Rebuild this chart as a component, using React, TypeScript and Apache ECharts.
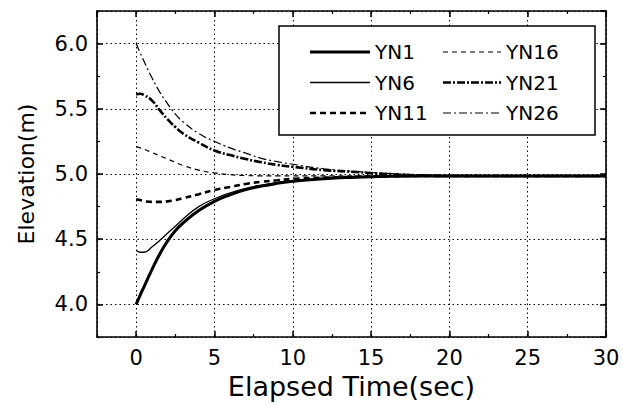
import React, { useEffect, useRef } from "react";
import * as echarts from "echarts";

const times = [0, 0.25, 0.5, 1, 1.5, 2, 2.5, 3, 4, 5, 6, 7, 8, 9, 10, 12, 14, 16, 18, 20, 25, 30];
const yn1 = [4.0, 4.07, 4.135, 4.265, 4.385, 4.485, 4.565, 4.625, 4.72, 4.79, 4.84, 4.88, 4.907, 4.928, 4.944, 4.964, 4.975, 4.982, 4.985, 4.985, 4.985, 4.985];
const yn6 = [4.415, 4.4, 4.4, 4.44, 4.49, 4.545, 4.6, 4.655, 4.75, 4.81, 4.855, 4.89, 4.915, 4.934, 4.948, 4.966, 4.976, 4.982, 4.985, 4.985, 4.985, 4.985];
const yn11 = [4.807, 4.8, 4.793, 4.786, 4.786, 4.79, 4.8, 4.815, 4.845, 4.878, 4.9, 4.924, 4.94, 4.952, 4.962, 4.972, 4.978, 4.982, 4.985, 4.985, 4.985, 4.985];
const yn16 = [5.21, 5.2, 5.19, 5.165, 5.14, 5.115, 5.09, 5.065, 5.03, 5.008, 4.995, 4.988, 4.986, 4.985, 4.985, 4.985, 4.985, 4.985, 4.985, 4.985, 4.985, 4.985];
const yn21 = [5.61, 5.615, 5.605, 5.565, 5.49, 5.42, 5.36, 5.31, 5.24, 5.18, 5.145, 5.115, 5.09, 5.07, 5.055, 5.03, 5.015, 5.0, 4.99, 4.985, 4.985, 4.985];
const yn26 = [6.0, 5.93, 5.865, 5.74, 5.63, 5.54, 5.46, 5.4, 5.31, 5.25, 5.2, 5.16, 5.12, 5.095, 5.075, 5.04, 5.02, 5.005, 4.995, 4.99, 4.985, 4.985];

const seriesNames = ["YN1", "YN6", "YN11", "YN16", "YN21", "YN26"];
const seriesValues = [yn1, yn6, yn11, yn16, yn21, yn26];
const lineStyles = [
  { width: 3, type: "solid" as any },
  { width: 1.3, type: "solid" as any },
  { width: 2.6, type: [6, 4] as any },
  { width: 1.2, type: [5, 4] as any },
  { width: 2.6, type: [8, 2, 2, 2] as any },
  { width: 1.2, type: [8, 3, 2, 3] as any },
];

const FONT = "DejaVu Sans";

export default function App() {
  const ref = useRef<HTMLDivElement>(null);
  useEffect(() => {
    if (!ref.current) return;
    const chart = echarts.init(ref.current, null, { renderer: "svg" });
    const black = "#000";
    const xMajorBase = {
      type: "value" as const,
      min: -2.5,
      max: 30,
      splitNumber: 6,
      axisLine: { show: true, onZero: false, lineStyle: { color: black, width: 1.6 } },
      axisTick: { show: true, inside: true, length: 6, lineStyle: { color: black, width: 1.5 } },
    };
    const xMinorBase = {
      type: "value" as const,
      min: -2.5,
      max: 30,
      interval: 2.5,
      axisLine: { show: false, onZero: false },
      axisTick: { show: true, inside: true, length: 3, lineStyle: { color: black, width: 1.2 } },
      axisLabel: { show: false },
      splitLine: { show: false },
    };
    const yMajorBase = {
      type: "value" as const,
      min: 3.75,
      max: 6.25,
      splitNumber: 5,
      axisLine: { show: true, onZero: false, lineStyle: { color: black, width: 1.6 } },
      axisTick: { show: true, inside: true, length: 6, lineStyle: { color: black, width: 1.5 } },
    };
    const yMinorBase = {
      type: "value" as const,
      min: 3.75,
      max: 6.25,
      interval: 0.25,
      axisLine: { show: false, onZero: false },
      axisTick: { show: true, inside: true, length: 3, lineStyle: { color: black, width: 1.2 } },
      axisLabel: { show: false },
      splitLine: { show: false },
    };

    const graphics: any[] = [
      {
        type: "rect",
        shape: { x: 279, y: 26, width: 316, height: 109 },
        style: { fill: "#fff", stroke: black, lineWidth: 1.5 },
        z: 100,
      },
    ];
    seriesNames.forEach((name, i) => {
      const col = Math.floor(i / 3);
      const row = i % 3;
      const y = 52 + row * 30.5;
      const x1 = col === 0 ? 310 : 443;
      const x2 = col === 0 ? 370 : 501;
      const ls = lineStyles[i];
      graphics.push({
        type: "line",
        shape: { x1, y1: y, x2, y2: y },
        style: {
          stroke: black,
          lineWidth: ls.width,
          lineDash: Array.isArray(ls.type) ? ls.type : null,
        },
        z: 101,
      });
      graphics.push({
        type: "text",
        x: x2 + 5,
        y,
        style: {
          text: name,
          fontSize: 20,
          fontFamily: FONT,
          fill: black,
          verticalAlign: "middle",
          align: "left",
        },
        z: 101,
      });
    });

    chart.setOption({
      animation: false,
      backgroundColor: "#fff",
      grid: { left: 97, right: 16, top: 11, bottom: 68, containLabel: false, outerBoundsMode: "none" } as any,
      xAxis: [
        {
          ...xMajorBase,
          position: "bottom",
          axisLabel: {
            show: true,
            showMinLabel: false,
            margin: 10,
            fontSize: 21,
            fontFamily: FONT,
            color: black,
            formatter: (v: number) => String(v),
          },
          splitLine: { show: true, lineStyle: { color: black, type: [1.5, 3], width: 1 } },
          name: "Elapsed Time(sec)",
          nameLocation: "middle",
          nameGap: 34,
          nameTextStyle: { fontSize: 27, fontFamily: FONT, color: black, verticalAlign: "top" },
        },
        { ...xMinorBase, position: "bottom" },
        {
          ...xMajorBase,
          position: "top",
          axisLabel: { show: false },
          splitLine: { show: false },
        },
        { ...xMinorBase, position: "top" },
      ],
      yAxis: [
        {
          ...yMajorBase,
          position: "left",
          axisLabel: {
            show: true,
            showMinLabel: false,
            showMaxLabel: false,
            margin: 9,
            fontSize: 21,
            fontFamily: FONT,
            color: black,
            formatter: (v: number) => v.toFixed(1),
          },
          splitLine: { show: true, lineStyle: { color: black, type: [1.5, 3], width: 1 } },
          name: "Elevation(m)",
          nameLocation: "middle",
          nameGap: 60,
          nameTextStyle: { fontSize: 22, fontFamily: FONT, color: black },
        },
        { ...yMinorBase, position: "left" },
        {
          ...yMajorBase,
          position: "right",
          axisLabel: { show: false },
          splitLine: { show: false },
        },
        { ...yMinorBase, position: "right" },
      ],
      series: seriesNames.map((name, i) => ({
        name,
        type: "line",
        xAxisIndex: 0,
        yAxisIndex: 0,
        showSymbol: false,
        smooth: 0.5,
        data: times.map((t, j) => [t, seriesValues[i][j]]),
        lineStyle: { color: black, width: lineStyles[i].width, type: lineStyles[i].type },
        z: 10,
      })),
      graphic: graphics,
    });
    return () => chart.dispose();
  }, []);
  return (
    <div
      ref={ref}
      style={{ position: "fixed", left: 0, top: 0, width: 622, height: 405, background: "#fff" }}
    />
  );
}
